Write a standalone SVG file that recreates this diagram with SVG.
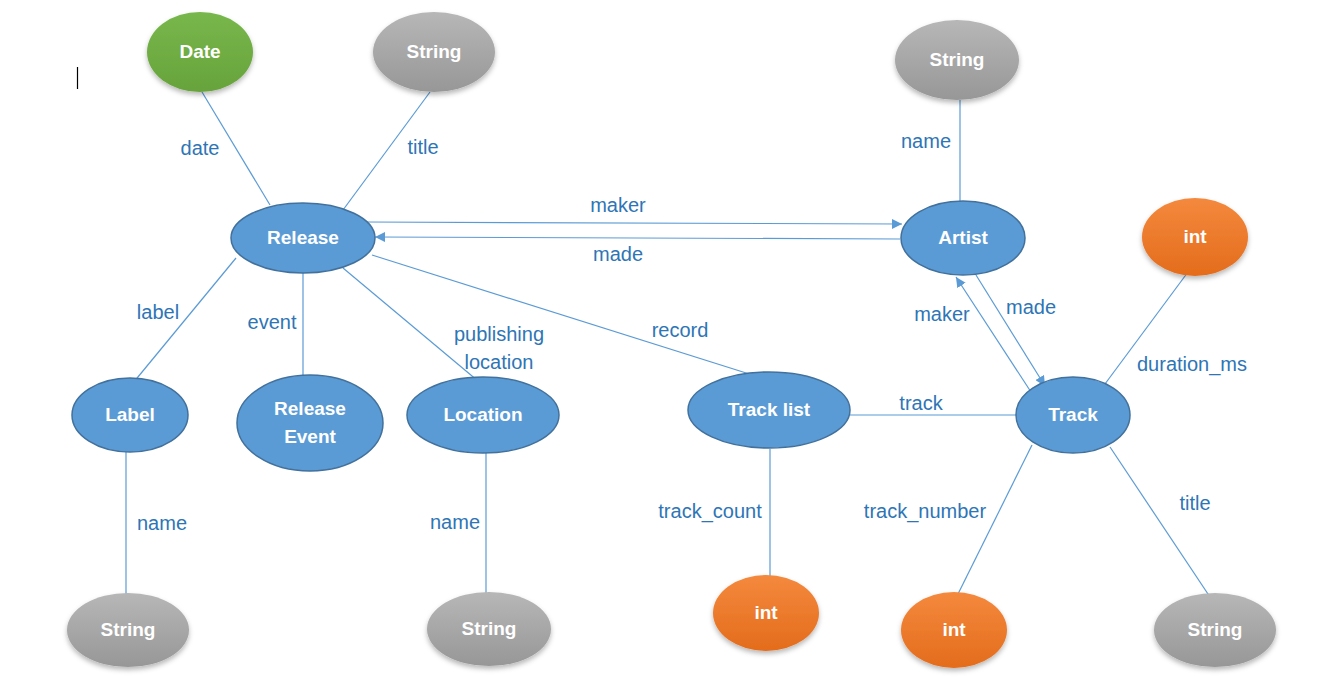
<svg xmlns="http://www.w3.org/2000/svg" width="1333" height="689" viewBox="0 0 1333 689">
<defs>
<linearGradient id="gGray" x1="0" y1="0" x2="0" y2="1"><stop offset="0" stop-color="#B7B7B7"/><stop offset="1" stop-color="#979797"/></linearGradient>
<linearGradient id="gOrange" x1="0" y1="0" x2="0" y2="1"><stop offset="0" stop-color="#F4893D"/><stop offset="1" stop-color="#E46C1C"/></linearGradient>
<linearGradient id="gGreen" x1="0" y1="0" x2="0" y2="1"><stop offset="0" stop-color="#78B74C"/><stop offset="1" stop-color="#67A33B"/></linearGradient>
<filter id="sh" x="-20%" y="-20%" width="140%" height="150%"><feDropShadow dx="0" dy="3" stdDeviation="2.5" flood-color="#000" flood-opacity="0.28"/></filter>
<marker id="arr" viewBox="0 0 10 10" refX="10" refY="5" markerWidth="10" markerHeight="10" markerUnits="userSpaceOnUse" orient="auto"><path d="M0,0 L10,5 L0,10 z" fill="#5B9BD5"/></marker>
<style>
.blue{fill:#5B9BD5;stroke:#41719C;stroke-width:1.5}
.gray{fill:url(#gGray);filter:url(#sh)}
.orange{fill:url(#gOrange);filter:url(#sh)}
.green{fill:url(#gGreen);filter:url(#sh)}
.nt{font-family:"Liberation Sans",Arial,sans-serif;font-weight:bold;font-size:19px;fill:#fff;text-anchor:middle}
.lb{font-family:"Liberation Sans",Arial,sans-serif;font-size:20px;fill:#2E75B6;text-anchor:middle}
.ln{stroke:#5B9BD5;stroke-width:1.2;fill:none}
</style>
</defs>
<rect width="1333" height="689" fill="#fff"/>
<line x1="77.5" y1="67" x2="77.5" y2="89" stroke="#000" stroke-width="1.2"/>
<g id="connectors">
<line class="ln" x1="202" y1="92" x2="270" y2="205"/>
<line class="ln" x1="430" y1="92" x2="343" y2="210"/>
<line class="ln" x1="960" y1="100" x2="960" y2="202"/>
<line class="ln" x1="366" y1="222" x2="902" y2="224" marker-end="url(#arr)"/>
<line class="ln" x1="900" y1="239" x2="375" y2="237" marker-end="url(#arr)"/>
<line class="ln" x1="236" y1="258" x2="133" y2="383"/>
<line class="ln" x1="303" y1="273" x2="303" y2="375"/>
<line class="ln" x1="343" y1="268" x2="478" y2="381"/>
<line class="ln" x1="372" y1="255" x2="762" y2="378"/>
<line class="ln" x1="850" y1="415" x2="1016" y2="415"/>
<line class="ln" x1="1031" y1="392" x2="956" y2="277" marker-end="url(#arr)"/>
<line class="ln" x1="976" y1="275" x2="1045" y2="386" marker-end="url(#arr)"/>
<line class="ln" x1="1188" y1="272" x2="1102" y2="388"/>
<line class="ln" x1="126" y1="452" x2="126" y2="598"/>
<line class="ln" x1="486" y1="453" x2="486" y2="597"/>
<line class="ln" x1="770" y1="449" x2="770" y2="576"/>
<line class="ln" x1="1032" y1="445" x2="956" y2="598"/>
<line class="ln" x1="1110" y1="447" x2="1214" y2="603"/>
<text class="lb" x="200" y="155">date</text>
<text class="lb" x="423" y="154">title</text>
<text class="lb" x="926" y="148">name</text>
<text class="lb" x="618" y="212">maker</text>
<text class="lb" x="618" y="261">made</text>
<text class="lb" x="158" y="319">label</text>
<text class="lb" x="272" y="329">event</text>
<text class="lb" x="499" y="341">publishing</text>
<text class="lb" x="499" y="369">location</text>
<text class="lb" x="680" y="337">record</text>
<text class="lb" x="921" y="410">track</text>
<text class="lb" x="942" y="321">maker</text>
<text class="lb" x="1031" y="314">made</text>
<text class="lb" x="1192" y="371">duration_ms</text>
<text class="lb" x="162" y="530">name</text>
<text class="lb" x="455" y="529">name</text>
<text class="lb" x="710" y="518">track_count</text>
<text class="lb" x="925" y="518">track_number</text>
<text class="lb" x="1195" y="510">title</text>
</g>
<g id="date"><ellipse class="green" cx="200" cy="52" rx="53" ry="40"/><text class="nt" x="200" y="58">Date</text></g>
<g id="string-title"><ellipse class="gray" cx="434" cy="52" rx="61" ry="40"/><text class="nt" x="434" y="58">String</text></g>
<g id="string-name-artist"><ellipse class="gray" cx="957" cy="60" rx="62" ry="40"/><text class="nt" x="957" y="66">String</text></g>
<g id="release"><ellipse class="blue" cx="303" cy="238" rx="72" ry="35"/><text class="nt" x="303" y="244">Release</text></g>
<g id="artist"><ellipse class="blue" cx="963" cy="238" rx="62" ry="37"/><text class="nt" x="963" y="244">Artist</text></g>
<g id="int-duration"><ellipse class="orange" cx="1195" cy="237" rx="53" ry="39"/><text class="nt" x="1195" y="243">int</text></g>
<g id="label"><ellipse class="blue" cx="130" cy="415" rx="58" ry="37"/><text class="nt" x="130" y="421">Label</text></g>
<g id="release-event"><ellipse class="blue" cx="310" cy="423" rx="73" ry="48"/><text class="nt" x="310" y="415">Release</text><text class="nt" x="310" y="443">Event</text></g>
<g id="location"><ellipse class="blue" cx="483" cy="415" rx="76" ry="38"/><text class="nt" x="483" y="421">Location</text></g>
<g id="track-list"><ellipse class="blue" cx="769" cy="410" rx="81" ry="38"/><text class="nt" x="769" y="416">Track list</text></g>
<g id="track"><ellipse class="blue" cx="1073" cy="415" rx="57" ry="38"/><text class="nt" x="1073" y="421">Track</text></g>
<g id="string-label-name"><ellipse class="gray" cx="128" cy="630" rx="61" ry="37"/><text class="nt" x="128" y="636">String</text></g>
<g id="string-location-name"><ellipse class="gray" cx="489" cy="629" rx="62" ry="37"/><text class="nt" x="489" y="635">String</text></g>
<g id="int-track-count"><ellipse class="orange" cx="766" cy="613" rx="53" ry="38"/><text class="nt" x="766" y="619">int</text></g>
<g id="int-track-number"><ellipse class="orange" cx="954" cy="630" rx="53" ry="38"/><text class="nt" x="954" y="636">int</text></g>
<g id="string-track-title"><ellipse class="gray" cx="1215" cy="630" rx="61" ry="37"/><text class="nt" x="1215" y="636">String</text></g>
</svg>
